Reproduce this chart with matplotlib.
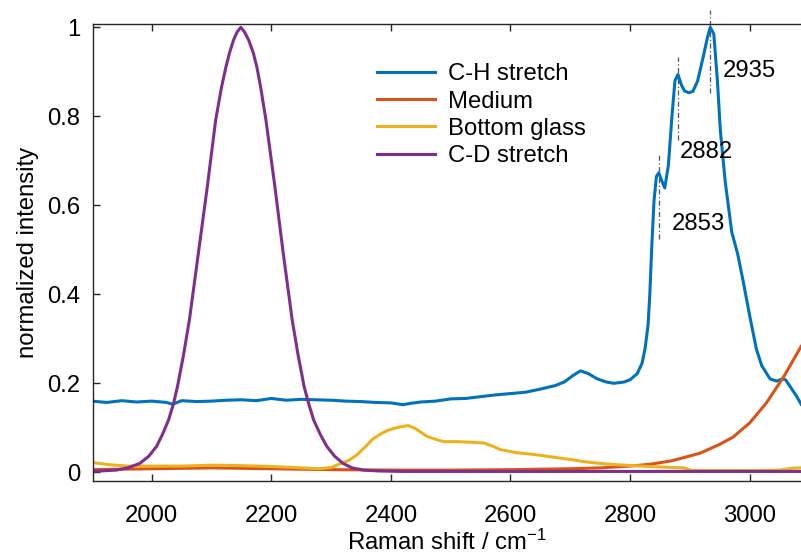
import matplotlib
matplotlib.use("Agg")
import matplotlib.pyplot as plt

plt.rcParams["font.family"] = ["Liberation Sans", "DejaVu Sans"]
plt.rcParams["mathtext.fontset"] = "custom"
plt.rcParams["mathtext.rm"] = "Liberation Sans"
plt.rcParams["mathtext.it"] = "Liberation Sans:italic"

# C-H stretch (blue)
ch_x = [1900, 1925, 1950, 1975, 2000, 2025, 2035, 2050, 2075, 2100, 2125, 2150,
        2175, 2200, 2225, 2250, 2275, 2300, 2325, 2350, 2375, 2400, 2420, 2433,
        2450, 2475, 2500, 2525, 2550, 2575, 2600, 2625, 2650, 2675, 2690, 2705,
        2717, 2730, 2745, 2760, 2773, 2790, 2800, 2812, 2820, 2825, 2830, 2833,
        2836, 2840, 2844, 2848, 2853, 2858, 2864, 2870, 2875, 2880, 2886, 2891,
        2898, 2905, 2913, 2922, 2929, 2934, 2940, 2946, 2951, 2959, 2970, 2980,
        2989, 3000, 3011, 3020, 3034, 3045, 3055, 3060, 3067, 3078, 3086]
ch_y = [0.160, 0.157, 0.161, 0.158, 0.160, 0.157, 0.153, 0.161, 0.159, 0.160,
        0.162, 0.163, 0.161, 0.166, 0.162, 0.164, 0.163, 0.162, 0.160, 0.159,
        0.157, 0.156, 0.152, 0.155, 0.158, 0.160, 0.165, 0.166, 0.170, 0.174,
        0.177, 0.180, 0.187, 0.195, 0.203, 0.218, 0.228, 0.222, 0.210, 0.203,
        0.200, 0.203, 0.208, 0.222, 0.245, 0.278, 0.330, 0.400, 0.500, 0.610,
        0.665, 0.673, 0.655, 0.639, 0.690, 0.800, 0.880, 0.894, 0.870, 0.857,
        0.853, 0.856, 0.880, 0.932, 0.975, 1.000, 0.985, 0.880, 0.767, 0.654,
        0.540, 0.490, 0.430, 0.352, 0.278, 0.240, 0.210, 0.205, 0.210, 0.208,
        0.194, 0.172, 0.153]

# Medium (orange)
med_x = [1900, 2000, 2100, 2200, 2300, 2400, 2500, 2600, 2700, 2750, 2800,
         2833, 2870, 2917, 2950, 2972, 3000, 3028, 3057, 3086]
med_y = [0.006, 0.008, 0.010, 0.008, 0.006, 0.005, 0.005, 0.006, 0.008, 0.010,
         0.014, 0.018, 0.026, 0.043, 0.063, 0.079, 0.111, 0.156, 0.215, 0.283]

# Bottom glass (yellow)
glass_x = [1900, 1930, 1960, 2000, 2050, 2100, 2150, 2200, 2250, 2280, 2300,
           2315, 2330, 2343, 2357, 2370, 2385, 2398, 2415, 2429, 2440, 2449,
           2460, 2475, 2488, 2510, 2527, 2555, 2570, 2583, 2611, 2640, 2666,
           2700, 2722, 2750, 2778, 2833, 2889, 2905, 2950, 3000, 3050, 3070, 3086]
glass_y = [0.022, 0.017, 0.014, 0.014, 0.014, 0.016, 0.015, 0.013, 0.010, 0.008,
           0.011, 0.019, 0.027, 0.039, 0.057, 0.075, 0.088, 0.096, 0.102, 0.105,
           0.099, 0.091, 0.081, 0.074, 0.069, 0.069, 0.068, 0.066, 0.059, 0.051,
           0.044, 0.040, 0.035, 0.029, 0.024, 0.020, 0.017, 0.013, 0.010, 0.004,
           0.004, 0.004, 0.005, 0.009, 0.010]

# C-D stretch (purple)
cd_x = [1900, 1941, 1960, 1980, 1995, 2008, 2018, 2028, 2036, 2043, 2053, 2063,
        2078, 2093, 2107, 2117, 2124, 2130, 2137, 2143, 2149, 2155, 2162, 2170,
        2176, 2182, 2191, 2206, 2220, 2235, 2245, 2255, 2263, 2271, 2282, 2293,
        2306, 2320, 2335, 2354, 2380, 2420, 2500, 2600, 2700, 2800, 2900, 3000,
        3086]
cd_y = [0.002, 0.005, 0.010, 0.020, 0.036, 0.058, 0.085, 0.117, 0.152, 0.192,
        0.262, 0.342, 0.492, 0.642, 0.792, 0.867, 0.910, 0.942, 0.972, 0.990,
        1.000, 0.990, 0.972, 0.942, 0.910, 0.867, 0.792, 0.642, 0.492, 0.342,
        0.262, 0.192, 0.152, 0.117, 0.085, 0.058, 0.036, 0.020, 0.010, 0.005,
        0.003, 0.002, 0.002, 0.002, 0.002, 0.002, 0.002, 0.002, 0.002]

# peak markers
peak_pos = [2848, 2880, 2934]
peak_height = [0.673, 0.894, 1.000]
peak_labels = ["2853", "2882", "2935"]
label_x = [2870, 2883, 2955]
label_y = [0.557, 0.719, 0.902]

colors = ["#0072BD", "#D95319", "#EDB120", "#7E2F8E"]
names = ["C-H stretch", "Medium", "Bottom glass", "C-D stretch"]
fs = 17.2

fig = plt.figure(figsize=(8.01, 5.58), dpi=100)
ax = fig.add_axes([0.1157, 0.138, 0.8843, 0.819])

ax.plot(ch_x, ch_y, color=colors[0], lw=2.2, label=names[0])
ax.plot(med_x, med_y, color=colors[1], lw=2.2, label=names[1])
ax.plot(glass_x, glass_y, color=colors[2], lw=2.2, label=names[2])
ax.plot(cd_x, cd_y, color=colors[3], lw=2.2, label=names[3])

for p, h in zip(peak_pos, peak_height):
    ax.plot([p, p], [h - 0.148, h + 0.039], color="#555555", lw=0.9,
            ls=(0, (4, 2, 1, 2)), clip_on=False, zorder=1)
for lx, ly, t in zip(label_x, label_y, peak_labels):
    ax.text(lx, ly, t, fontsize=fs, va="center", ha="left", color="black")

ax.set_xlim(1901.3, 3085.8)
ax.set_ylim(-0.0195, 1.0075)
ax.set_xticks([2000, 2200, 2400, 2600, 2800, 3000])
ax.set_yticks([0, 0.2, 0.4, 0.6, 0.8, 1])
ax.set_yticklabels(["0", "0.2", "0.4", "0.6", "0.8", "1"])
ax.tick_params(direction="in", top=True, right=False, length=5, width=1,
               labelsize=fs, color="#262626")
ax.tick_params(axis="x", pad=17)
ax.tick_params(axis="y", pad=9)
ax.spines["right"].set_visible(False)
for s in ["left", "top", "bottom"]:
    ax.spines[s].set_color("#262626")
    ax.spines[s].set_linewidth(1)

ax.set_xlabel("Raman shift / cm$^{-1}$", fontsize=fs, labelpad=2.5)
ax.set_ylabel("normalized intensity", fontsize=fs, labelpad=6)

ax.legend(loc="upper left", bbox_to_anchor=(0.402, 0.914), frameon=False,
          fontsize=fs, handlelength=2.4, handletextpad=0.55,
          labelspacing=0.22, borderpad=0, borderaxespad=0)

fig.savefig("out.png", dpi=100)
